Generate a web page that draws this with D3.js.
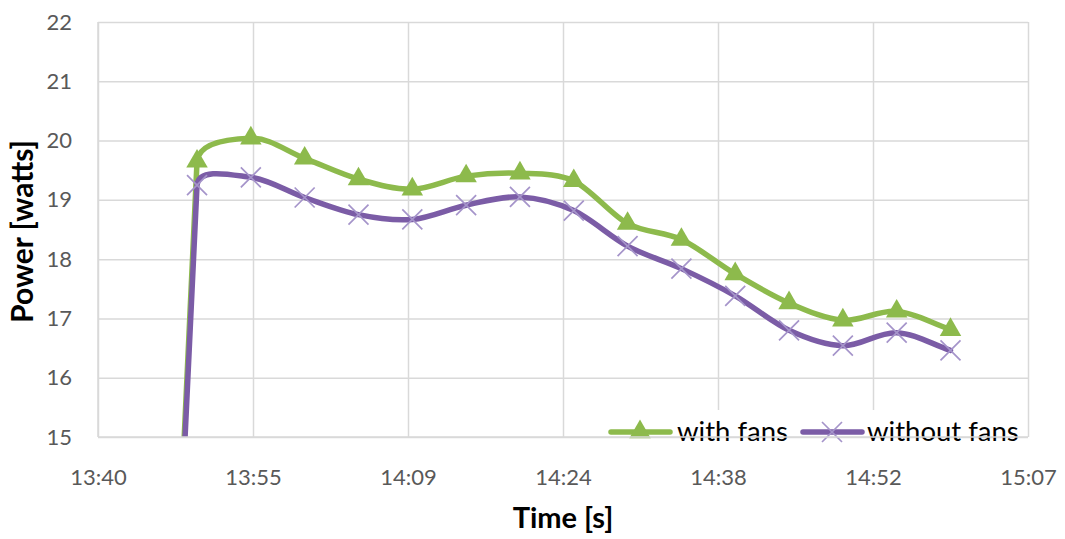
<!DOCTYPE html>
<html>
<head>
<meta charset="utf-8">
<script src="https://cdn.jsdelivr.net/npm/d3@7"></script>
<style>
  html, body { margin: 0; padding: 0; background: #fff; }
  svg { display: block; }
  text { font-family: Lato, "Open Sans", sans-serif; }
</style>
</head>
<body>
<svg id="chart" width="1065" height="539"></svg>
<script>
// Sample times (HH:MM) and measured power in watts
const times = ["13:45", "13:50", "13:55", "14:00", "14:05", "14:10", "14:15", "14:20",
               "14:25", "14:30", "14:35", "14:40", "14:45", "14:50", "14:55", "15:00"];
const withFans = [0, 19.65, 20.04, 19.70, 19.35, 19.18, 19.40, 19.45,
                  19.32, 18.60, 18.33, 17.75, 17.26, 16.97, 17.12, 16.81];
const withoutFans = [0, 19.25, 19.38, 19.04, 18.75, 18.67, 18.91, 19.05,
                     18.82, 18.22, 17.84, 17.38, 16.80, 16.54, 16.76, 16.46];

// Axis ticks: x in minutes of the day (0.01-day steps), y in watts
const xTickValues = [820.8, 835.2, 849.6, 864.0, 878.4, 892.8, 907.2];
const xTickLabels = ["13:40", "13:55", "14:09", "14:24", "14:38", "14:52", "15:07"];
const yTickValues = [15, 16, 17, 18, 19, 20, 21, 22];

const seriesNames = ["with fans", "without fans"];

const toMinutes = s => { const [h, m] = s.split(":").map(Number); return h * 60 + m; };

// Smoothed line: cubic Bezier through every point, tangent taken from the
// neighbours, handle length limited by the shorter adjacent segment.
function curveSmooth(context) {
  let pts;
  return {
    areaStart() {}, areaEnd() {},
    lineStart() { pts = []; },
    point(x, y) { pts.push([+x, +y]); },
    lineEnd() {
      const n = pts.length;
      if (!n) return;
      context.moveTo(pts[0][0], pts[0][1]);
      if (n === 1) return;
      const len = (a, b) => Math.hypot(b[0] - a[0], b[1] - a[1]);
      const tan = pts.map((p, i) => {
        const a = pts[Math.max(i - 1, 0)], b = pts[Math.min(i + 1, n - 1)];
        const L = len(a, b) || 1;
        return [(b[0] - a[0]) / L, (b[1] - a[1]) / L];
      });
      for (let i = 0; i < n - 1; i++) {
        const p = pts[i], q = pts[i + 1];
        const L = len(p, q);
        const Lp = i > 0 ? len(pts[i - 1], p) : L;
        const Ln = i + 2 < n ? len(q, pts[i + 2]) : L;
        const h1 = Math.min(L, Lp) / 3, h2 = Math.min(L, Ln) / 3;
        context.bezierCurveTo(
          p[0] + tan[i][0] * h1, p[1] + tan[i][1] * h1,
          q[0] - tan[i + 1][0] * h2, q[1] - tan[i + 1][1] * h2,
          q[0], q[1]);
      }
    }
  };
}

const W = 1065, H = 539;
const m = { left: 98, right: W - 1028, top: 22, bottom: H - 437 };

const svg = d3.select("#chart");

const x = d3.scaleLinear().domain([xTickValues[0], xTickValues[xTickValues.length - 1]])
  .range([m.left, W - m.right]);
const y = d3.scaleLinear().domain([15, 22]).range([H - m.bottom, m.top]);

const GREEN = "#8dba4c";
const PURPLE = "#7b5ca6";
const XMARK = "#a594ca";
const GRID = "#d9d9d9";

// clip to the plot area so the rise from below 15 W is cut at the axis
svg.append("defs").append("clipPath").attr("id", "plotClip")
  .append("rect")
  .attr("x", m.left).attr("y", m.top)
  .attr("width", W - m.left - m.right).attr("height", H - m.top - m.bottom);

// horizontal gridlines
svg.append("g")
  .attr("transform", `translate(${m.left},0)`)
  .call(d3.axisLeft(y).tickValues(yTickValues).tickSize(-(W - m.left - m.right)).tickFormat(""))
  .call(g => g.select(".domain").remove())
  .call(g => g.selectAll("line").attr("stroke", GRID).attr("stroke-width", 1.5));

// vertical gridlines
svg.append("g")
  .attr("transform", `translate(0,${H - m.bottom})`)
  .call(d3.axisBottom(x).tickValues(xTickValues).tickSize(-(H - m.top - m.bottom)).tickFormat(""))
  .call(g => g.select(".domain").remove())
  .call(g => g.selectAll("line").attr("stroke", GRID).attr("stroke-width", 1.5));

// y tick labels
svg.append("g")
  .attr("transform", `translate(${m.left},0)`)
  .call(d3.axisLeft(y).tickValues(yTickValues).tickSize(0).tickPadding(26).tickFormat(d3.format("d")))
  .call(g => g.select(".domain").remove())
  .call(g => g.selectAll("text").attr("fill", "#595959").style("font-size", "22px"));

// x tick labels
svg.append("g")
  .attr("transform", `translate(0,${H - m.bottom})`)
  .call(d3.axisBottom(x).tickValues(xTickValues).tickSize(0).tickPadding(48)
    .tickFormat((d, i) => xTickLabels[i]))
  .call(g => g.select(".domain").remove())
  .call(g => g.selectAll("text").attr("fill", "#595959").style("font-size", "22px")
    .attr("dy", "0"));

// axis titles
svg.append("text")
  .attr("transform", `translate(33,${(m.top + H - m.bottom) / 2 + 2}) rotate(-90)`)
  .attr("text-anchor", "middle")
  .style("font-size", "30px").style("font-weight", "bold").attr("fill", "#000")
  .text("Power [watts]");

svg.append("text")
  .attr("x", (m.left + W - m.right) / 2).attr("y", 528)
  .attr("text-anchor", "middle")
  .style("font-size", "29px").style("font-weight", "bold").attr("fill", "#000")
  .text("Time [s]");

// data
const pts = vals => times.map((t, i) => ({ t: toMinutes(t), v: vals[i] }));
const dataWith = pts(withFans);
const dataWithout = pts(withoutFans);

const line = d3.line()
  .x(d => x(d.t)).y(d => y(d.v))
  .curve(curveSmooth);

const plot = svg.append("g").attr("clip-path", "url(#plotClip)");

const tri = d3.symbol().type(d3.symbolTriangle).size(200);
const cross = size => `M${-size},${-size}L${size},${size}M${-size},${size}L${size},${-size}`;

plot.append("path").datum(dataWith)
  .attr("d", line).attr("fill", "none").attr("stroke", GREEN)
  .attr("stroke-width", 5.5).attr("stroke-linejoin", "round").attr("stroke-linecap", "round");

plot.append("g").selectAll("path").data(dataWith.filter(d => d.v >= 15))
  .join("path")
  .attr("transform", d => `translate(${x(d.t)},${y(d.v)})`)
  .attr("d", tri).attr("fill", GREEN);

plot.append("path").datum(dataWithout)
  .attr("d", line).attr("fill", "none").attr("stroke", PURPLE)
  .attr("stroke-width", 5.5).attr("stroke-linejoin", "round").attr("stroke-linecap", "round");

plot.append("g").selectAll("path").data(dataWithout.filter(d => d.v >= 15))
  .join("path")
  .attr("transform", d => `translate(${x(d.t)},${y(d.v)})`)
  .attr("d", cross(10)).attr("fill", "none").attr("stroke", XMARK).attr("stroke-width", 1.7);

// plot area left edge
svg.append("line").attr("x1", m.left).attr("x2", m.left)
  .attr("y1", m.top).attr("y2", H - m.bottom).attr("stroke", GRID).attr("stroke-width", 1.5);

// legend
const lg = svg.append("g");
lg.append("rect").attr("x", 604).attr("y", 410).attr("width", 418).attr("height", 26).attr("fill", "#fff");

lg.append("line").attr("x1", 611).attr("x2", 670).attr("y1", 432).attr("y2", 432)
  .attr("stroke", GREEN).attr("stroke-width", 5.5).attr("stroke-linecap", "round");
lg.append("path").attr("transform", "translate(640,432)").attr("d", tri).attr("fill", GREEN);
lg.append("text").attr("x", 677).attr("y", 441).style("font-size", "27.5px").attr("fill", "#000")
  .text(seriesNames[0]);

lg.append("line").attr("x1", 803).attr("x2", 862).attr("y1", 432).attr("y2", 432)
  .attr("stroke", PURPLE).attr("stroke-width", 5.5).attr("stroke-linecap", "round");
lg.append("path").attr("transform", "translate(832,432)").attr("d", cross(10))
  .attr("fill", "none").attr("stroke", XMARK).attr("stroke-width", 1.7);
lg.append("text").attr("x", 867).attr("y", 441).style("font-size", "27.5px").attr("fill", "#000")
  .text(seriesNames[1]);

// plot area bottom edge
svg.append("line").attr("x1", m.left).attr("x2", W - m.right)
  .attr("y1", H - m.bottom).attr("y2", H - m.bottom).attr("stroke", GRID).attr("stroke-width", 1.5);
</script>
</body>
</html>
